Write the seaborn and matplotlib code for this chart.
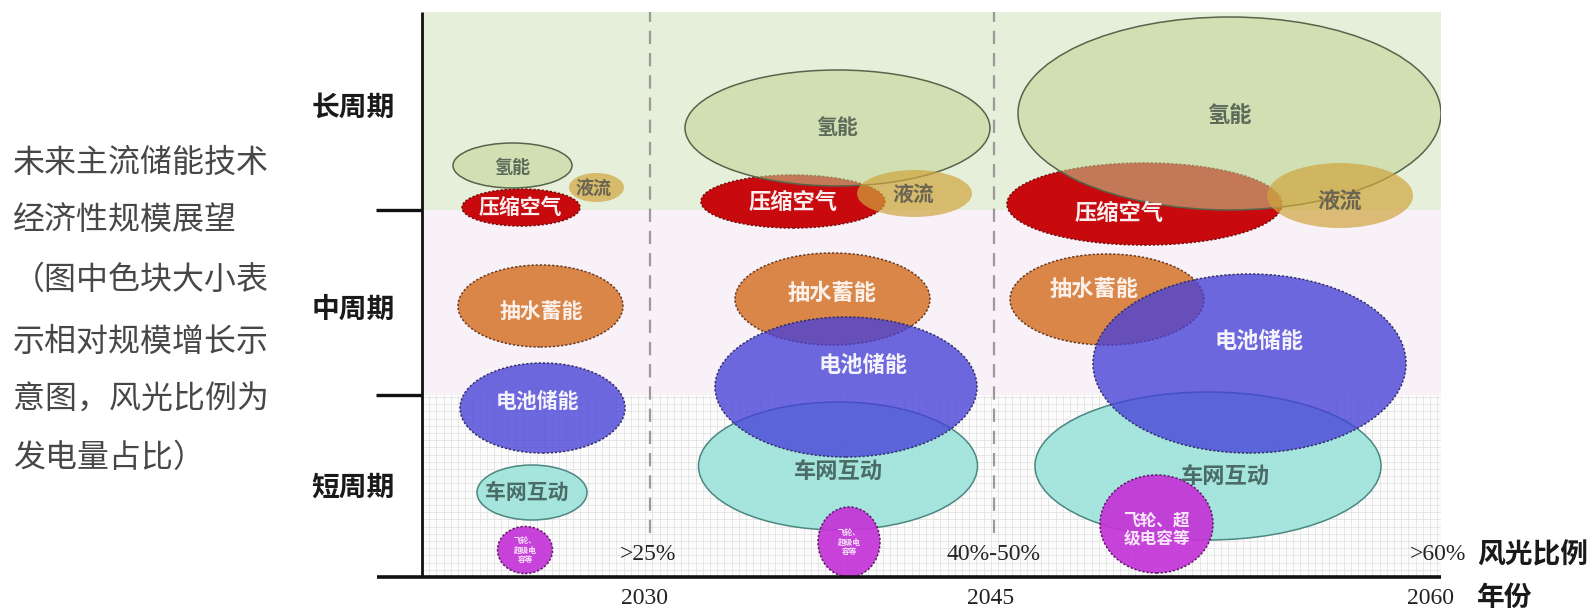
import matplotlib
matplotlib.use("Agg")
import matplotlib.pyplot as plt
from matplotlib.patches import Ellipse, Rectangle
import seaborn as sns

# ---------------------------------------------------------------- data
periods = ["2030", "2045", "2060"]
wind_solar_share = [">25%", "40%-50%", ">60%"]
cycle_labels = ["长周期", "中周期", "短周期"]
cycle_centres = [469, 267, 89]          # chart units on the y scale
cycle_bounds = [182, 367]
period_bounds = [228, 572]

technologies = ["抽水蓄能", "车网互动", "电池储能", "飞轮", "压缩空气", "氢能", "液流"]

# bubble centre / extent for each technology in each period (chart units)
bubble_x = [
    [118.5, 410.5, 685.0],
    [110.0, 416.0, 786.0],
    [120.5, 424.0, 827.5],
    [103.0, 427.0, 734.5],
    [99.0, 371.0, 722.5],
    [90.5, 415.5, 807.5],
    [174.5, 492.5, 918.0],
]
bubble_y = [
    [271.0, 278.0, 277.5],
    [84.5, 111.0, 111.0],
    [169.0, 190.0, 213.5],
    [27.0, 35.0, 53.0],
    [369.5, 375.5, 373.0],
    [411.5, 449.0, 463.5],
    [389.5, 383.5, 381.5],
]
bubble_w = [
    [165, 195, 194],
    [110, 279, 346],
    [165, 262, 313],
    [55, 62, 113],
    [118, 184, 275],
    [119, 305, 423],
    [55, 115, 146],
]
bubble_h = [
    [82, 92, 91],
    [55, 128, 148],
    [90, 140, 179],
    [47, 70, 98],
    [37, 53, 82],
    [45, 116, 193],
    [29, 47, 65],
]
bubble_text = [
    ["抽水蓄能"] * 3,
    ["车网互动"] * 3,
    ["电池储能"] * 3,
    ["飞轮、\n超级电\n容等", "飞轮、\n超级电\n容等", "飞轮、超\n级电容等"],
    ["压缩空气"] * 3,
    ["氢能"] * 3,
    ["液流"] * 3,
]

side_note = ["未来主流储能技术", "经济性规模展望", "（图中色块大小表",
             "示相对规模增长示", "意图，风光比例为", "发电量占比）"]

# ---------------------------------------------------------------- styling
styles = {
    "抽水蓄能": dict(fc="#d9803f", a=0.95, ec="#6b3b22", ls=(0, (1.5, 1.2)), tc="#fbf1ea"),
    "车网互动": dict(fc="#a2e3dd", a=0.95, ec="#4c8780", ls="-", tc="#4a6b66"),
    "电池储能": dict(fc="#4640d8", a=0.78, ec="#34306e", ls=(0, (1.5, 1.2)), tc="#f4f2fb"),
    "飞轮": dict(fc="#c433d6", a=0.92, ec="#5e1a66", ls=(0, (1.5, 1.2)), tc="#f8e6fa"),
    "压缩空气": dict(fc="#c80a0f", a=1.0, ec="#7a0a0a", ls=(0, (1.5, 1.2)), tc="#fbeeee"),
    "氢能": dict(fc="#c0d593", a=0.55, ec="#56644a", ls="-", tc="#5d6a5a"),
    "液流": dict(fc="#d0a53e", a=0.70, ec="none", ls="-", tc="#6b6552"),
}
label_size = {
    "抽水蓄能": [15, 16, 16], "车网互动": [15, 16, 16], "电池储能": [15, 16, 16],
    "飞轮": [5.5, 5.5, 12], "压缩空气": [15, 16, 16], "氢能": [13, 15, 16],
    "液流": [13, 15, 16],
}
label_shift = {
    "抽水蓄能": [(1, -6), (0, 6), (-13, 10)],
    "车网互动": [(-5, 0), (0, -6), (17, -11)],
    "电池储能": [(-5, 6), (17, 22), (10, 22)],
    "飞轮": [(0, 0), (0, 0), (0, -6)],
    "压缩空气": [(-1, 0), (0, -1), (-25, -9)],
    "氢能": [(0, -2), (0, 1), (0, -2)],
    "液流": [(-3, -2), (-1, -1), (0, -7)],
}

sns.set_theme(style="white")
plt.rcParams["font.family"] = ["Noto Sans CJK SC", "DejaVu Sans"]
plt.rcParams["axes.unicode_minus"] = False

W, H = 1592, 611
fig = plt.figure(figsize=(W / 100, H / 100), dpi=100, facecolor="white")
ax = fig.add_axes([422 / W, 34 / H, 1019 / W, 565 / H])
ax.set_xlim(0, 1019)
ax.set_ylim(0, 565)
ax.set_facecolor("white")
sns.despine(ax=ax, left=True, bottom=True)
ax.set_xticks([])
ax.set_yticks([])

# background bands for the three storage-duration classes
ax.add_patch(Rectangle((0, cycle_bounds[1]), 1019, 565 - cycle_bounds[1],
                       fc="#e6efda", ec="none", zorder=0))
ax.add_patch(Rectangle((0, cycle_bounds[0]), 1019, cycle_bounds[1] - cycle_bounds[0],
                       fc="#f8f1f7", ec="none", zorder=0))
ax.add_patch(Rectangle((0, 0), 1019, cycle_bounds[0], fc="#fcfcfc", ec="none", zorder=0))
step = 7.2
gx = [i * step for i in range(int(1019 / step) + 1)]
gy = [i * step for i in range(int(cycle_bounds[0] / step) + 1)]
ax.vlines(gx, 0, cycle_bounds[0], color="#dedede", lw=0.5, zorder=0.5)
ax.hlines(gy, 0, 1019, color="#dedede", lw=0.5, zorder=0.5)

# period separators
ax.vlines(period_bounds, 44, 565, colors="#9a9a9a", lw=1.6,
          linestyles=[(0, (6, 4))], zorder=1)

# bubbles
for i, tech in enumerate(technologies):
    st = styles[tech]
    for j in range(len(periods)):
        cx, cy = bubble_x[i][j], bubble_y[i][j]
        w, h = bubble_w[i][j], bubble_h[i][j]
        ax.add_patch(Ellipse((cx, cy), w, h, fc=st["fc"], alpha=st["a"],
                             ec="none", zorder=2 + i))
        if st["ec"] != "none":
            ax.add_patch(Ellipse((cx, cy), w, h, fc="none", ec=st["ec"],
                                 lw=1.1, ls=st["ls"], zorder=2 + i))
for i, tech in enumerate(technologies):
    st = styles[tech]
    for j in range(len(periods)):
        dx, dy = label_shift[tech][j]
        ax.text(bubble_x[i][j] + dx, bubble_y[i][j] + dy, bubble_text[i][j],
                ha="center", va="center", fontsize=label_size[tech][j],
                fontweight="bold", color=st["tc"], linespacing=1.05, zorder=20)

# axes lines and ticks
ax.plot([-45, 1019], [0, 0], color="#111111", lw=2.6, clip_on=False, zorder=30,
        solid_capstyle="butt")
ax.plot([0, 0], [0, 565], color="#111111", lw=2.0, clip_on=False, zorder=30,
        solid_capstyle="butt")
for b in cycle_bounds:
    ax.plot([-46, 0], [b, b], color="#111111", lw=2.4, clip_on=False, zorder=30,
            solid_capstyle="butt")

# duration class labels
for lab, yc in zip(cycle_labels, cycle_centres):
    ax.text(-27, yc, lab, ha="right", va="center", fontsize=20, fontweight="bold",
            color="#1a1a1a", clip_on=False)

# share of wind and solar / year labels
serif = ["Liberation Serif", "DejaVu Serif"]
share_x = [226, 572, 1016]
year_x = [223, 569, 1009]
for sx, lab in zip(share_x, wind_solar_share):
    ax.text(sx, 22, lab, ha="center", va="center", fontsize=17, family=serif,
            color="#222222", clip_on=False, zorder=25)
for yx, lab in zip(year_x, periods):
    ax.text(yx, -21, lab, ha="center", va="center", fontsize=17, family=serif,
            color="#222222", clip_on=False)
ax.text(1055, 22, "风光比例", ha="left", va="center", fontsize=20, fontweight="bold",
        color="#1a1a1a", clip_on=False)
ax.text(1055, -21, "年份", ha="left", va="center", fontsize=20, fontweight="bold",
        color="#1a1a1a", clip_on=False)

# side note
note_y = [414, 357, 297, 235, 177, 119]
for line, ny in zip(side_note, note_y):
    ax.text(-409, ny, line, ha="left", va="center", fontsize=23, color="#474747",
            clip_on=False)

fig.savefig("out.png", dpi=100, facecolor="white")
